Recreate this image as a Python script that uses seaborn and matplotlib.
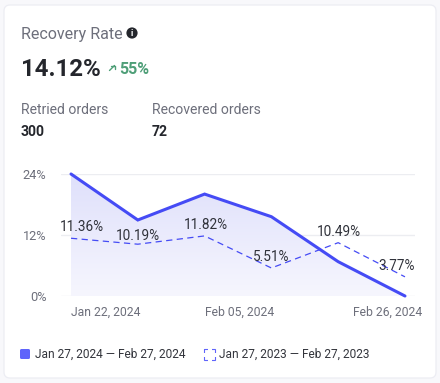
import numpy as np
import matplotlib.pyplot as plt
import matplotlib.patches as patches
import seaborn as sns
import pandas as pd

weeks = [0, 1, 2, 3, 4, 5]
current_rate = [24.0, 14.95, 20.05, 15.6, 6.75, 0.0]
previous_rate = [11.36, 10.19, 11.82, 5.51, 10.49, 3.77]
point_labels = ['11.36%', '10.19%', '11.82%', '5.51%', '10.49%', '3.77%']
y_ticks = [0, 12, 24]
y_tick_labels = ['0%', '12%', '24%']
x_tick_weeks = [0, 2, 5]
x_tick_labels = ['Jan 22, 2024', 'Feb 05, 2024', 'Feb 26, 2024']
legend_labels = ['Jan 27, 2024 — Feb 27, 2024', 'Jan 27, 2023 — Feb 27, 2023']

BLUE = '#454bf5'
DARK = '#24262c'
GREY = '#6d6f7b'
GREEN = '#4f9f78'
W, H = 440, 383

sns.set_theme(style='white')
plt.rcParams['font.family'] = ['Roboto', 'DejaVu Sans']

df = pd.DataFrame({'week': weeks, 'current': current_rate, 'previous': previous_rate})

fig = plt.figure(figsize=(W / 100, H / 100), dpi=100, facecolor='#f8f8fb')


# pixel position (from top left) to figure fraction
def px(x, y):
    return x / W, 1 - y / H


def label(x, y, s, size, color=DARK, weight='normal', ha='left'):
    fx, fy = px(x, y)
    fig.text(fx, fy, s, fontsize=size * 0.72, color=color, fontweight=weight, ha=ha, va='center')


# card
bg = fig.add_axes([0, 0, 1, 1])
bg.set_xlim(0, W)
bg.set_ylim(H, 0)
bg.axis('off')
bg.add_patch(patches.FancyBboxPatch((4, 5), 432, 373, boxstyle='round,pad=0,rounding_size=6',
                                    fc='white', ec='#ecedf3', lw=0.9))

# header
label(21, 34, 'Recovery Rate', 16, GREY)
bg.add_patch(patches.Circle((132, 33), 5.6, fc='#24262c', ec='none'))
label(132, 33, 'i', 9, 'white', 'bold', ha='center')
label(21, 69.5, '14.12%', 24, DARK, 'bold')
# small up-right arrow next to the delta
bg.plot([109.5, 114.5], [70.5, 65.5], color=GREEN, lw=1.0)
bg.plot([111, 114.5, 114.5], [65.5, 65.5, 69], color=GREEN, lw=1.0)
bg.set_xlim(0, W)
bg.set_ylim(H, 0)
label(119, 69, '55%', 16, GREEN, 'bold')
label(21, 110.5, 'Retried orders', 14, GREY)
label(21, 132.5, '300', 14, DARK, 'bold')
label(152, 110.5, 'Recovered orders', 14, GREY)
label(152, 132.5, '72', 14, DARK, 'bold')

# chart, axes box follows the gridlines
ax = fig.add_axes([61 / W, 1 - 296 / H, (415 - 61) / W, (296 - 174) / H])
ax.patch.set_alpha(0)
ax.set_xlim(-0.15, 5.15)
ax.set_ylim(0, 24)
sns.despine(ax=ax, left=True, bottom=True)
ax.set_yticks(y_ticks)
ax.set_yticklabels(y_tick_labels, fontsize=9.2, color=GREY)
ax.tick_params(axis='y', length=0, pad=10.5)
ax.set_xticks([])
ax.grid(axis='y', color='#ecedf1', lw=1)
ax.set_axisbelow(True)

# gradient under the main line
area = ax.fill_between(df['week'], df['current'], 0, color='none')
grad = np.linspace(0, 1, 256).reshape(-1, 1, 1) * np.array([[[1, 1, 1]]])
top_c = np.array(plt.matplotlib.colors.to_rgb('#dfe0fb'))
bot_c = np.array(plt.matplotlib.colors.to_rgb('#f6f6fe'))
img = top_c + (bot_c - top_c) * grad
im = ax.imshow(img, extent=[0, 5, 0, 24], aspect='auto', zorder=1, origin='upper')
im.set_clip_path(area.get_paths()[0], transform=ax.transData)
ax.set_xlim(-0.15, 5.15)
ax.set_ylim(0, 24)

sns.lineplot(data=df, x='week', y='current', ax=ax, color=BLUE, lw=2.2, zorder=3, clip_on=False,
             solid_joinstyle='miter', legend=False)
sns.lineplot(data=df, x='week', y='previous', ax=ax, color=BLUE, lw=0.9, zorder=3, clip_on=False,
             dashes=(5, 3.5), legend=False)
ax.set_xlabel('')
ax.set_ylabel('')

# value labels, each one nudged off its point
offsets = [(11, 11.5), (0, 8), (1, 10.5), (0, 11), (1, 11), (-8, 10.5)]
for w, v, s, off in zip(weeks, previous_rate, point_labels, offsets):
    ax.annotate(s, (w, v), xytext=off, textcoords='offset pixels', ha='center', va='center',
                fontsize=9.8, color='#30323a', zorder=4, annotation_clip=False)

# date labels do not sit centred under the ticks
tick_has = ['left', 'left', 'right']
tick_off = [0, 0, 17]
for w, s, ha, off in zip(x_tick_weeks, x_tick_labels, tick_has, tick_off):
    ax.annotate(s, (w, 0), xytext=(off, -16), textcoords='offset pixels', ha=ha, va='center',
                fontsize=8.7, color=GREY, annotation_clip=False)

# legend
bg.add_patch(patches.FancyBboxPatch((20, 349), 10, 10, boxstyle='round,pad=0,rounding_size=1.5',
                                    fc='#5f64fb', ec='none'))
label(35, 354.5, legend_labels[0], 11.9, '#33353c')
bg.add_patch(patches.Rectangle((203.5, 348.5), 11, 11, fc='none', ec='#5f64fb', lw=0.8,
                               ls=(3.15, (6.3, 3.6))))
label(219, 354.5, legend_labels[1], 11.9, '#33353c')

fig.savefig('out.png', dpi=100, facecolor=fig.get_facecolor())
